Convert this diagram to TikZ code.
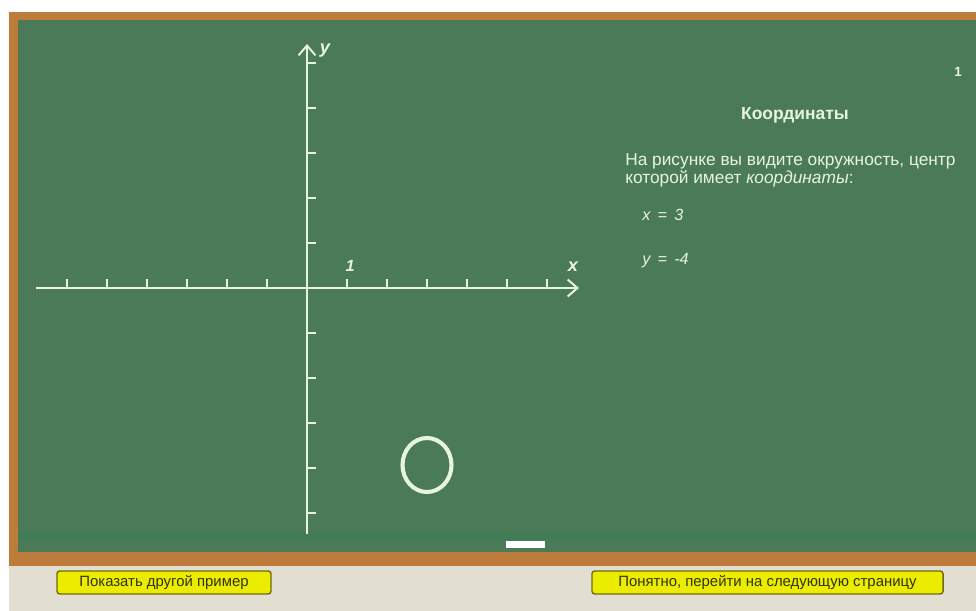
\documentclass[tikz,border=0pt]{standalone}
\usepackage{fontspec}
\setmainfont{Liberation Sans}
\usepackage{xcolor}
\usetikzlibrary{arrows.meta,calc}

\definecolor{board}{RGB}{74,122,88}
\definecolor{boardlow}{RGB}{66,124,86}
\definecolor{frame}{RGB}{190,124,60}
\definecolor{desk}{RGB}{226,223,210}
\definecolor{chalk}{RGB}{232,244,226}
\definecolor{btnfill}{RGB}{236,236,0}
\definecolor{btnline}{RGB}{110,106,20}
\definecolor{btntext}{RGB}{50,50,10}

\begin{document}
\begin{tikzpicture}[x=0.025cm,y=-0.025cm]
				\tikzstyle{every node}=[font=\fontsize{10}{12}\selectfont, text=chalk, inner sep=0pt];
				\tikzstyle{chalkline}=[draw=chalk, line width=1.4pt];
				\tikzstyle{button}=[fill=btnfill, draw=btnline, line width=1pt, rounded corners=2pt, minimum height=0.575cm, text=btntext, font=\fontsize{10.6}{12}\selectfont];
				\useasboundingbox (0,0) rectangle (976,611);

				%Board
				\fill[white] (0,0) rectangle (976,611);
				\fill[frame] (9,12) rectangle (976,566);
				\fill[desk] (9,566) rectangle (976,611);
				\fill[board] (18,20) rectangle (976,552);
				\fill[boardlow] (18,532) rectangle (976,540);
				\fill[white] (506,541) rectangle (545,548);

				%Axes
				\coordinate (o) at (307,288);
				\coordinate (xl) at (36,288);
				\coordinate (xr) at (579,288);
				\coordinate (yb) at (307,534);
				\coordinate (yt) at (307,44);
				\draw[chalkline, -{Straight Barb[length=7pt, width=12pt]}] (xl) -- (xr);
				\draw[chalkline, -{Straight Barb[length=7pt, width=12pt]}] (yb) -- (yt);

				%Ticks
				\foreach \i in {-6,...,-1,1,2,...,6}
					\draw[chalkline] ($(o)+(40*\i,0)$) -- ++(0,-9);
				\foreach \j in {-5,...,-1,1,2,...,5}
					\draw[chalkline] ($(o)+(0,45*\j)$) -- ++(9,0);

				%Labels
				\node[font=\fontsize{13}{15}\selectfont\bfseries\itshape] (ylab) at (325,51) {y};
				\node[font=\fontsize{13}{15}\selectfont\bfseries\itshape] (xlab) at (573,267) {x};
				\node[font=\fontsize{11.5}{13}\selectfont\bfseries\itshape] (one) at (350,266) {1};

				%Circle
				\draw[draw=chalk, line width=2.9pt] (427,465) ellipse (24.5 and 27);

				%Text
				\node[font=\fontsize{9.5}{11}\selectfont\bfseries] (page) at (958,72) {1};
				\node[font=\fontsize{12.4}{14}\selectfont\bfseries] (title) at (795,115) {Координаты};
				\node[anchor=north west, align=left, font=\fontsize{12.3}{12.8}\selectfont] (task) at (625,153)
					{На рисунке вы видите окружность, центр\\которой имеет \textit{координаты}:};
				\node[anchor=west, font=\fontsize{11.5}{13}\selectfont\itshape] (cx) at (642,215) {x\hspace{0.45em}=\hspace{0.45em}3};
				\node[anchor=west, font=\fontsize{11.5}{13}\selectfont\itshape] (cy) at (642,261) {y\hspace{0.45em}=\hspace{0.45em}-4};

				%Buttons
				\node[button, minimum width=5.35cm] (other) at (164,582.5) {Показать другой пример};
				\node[button, minimum width=8.775cm] (next) at (767.5,582.5) {Понятно, перейти на следующую страницу};

			\end{tikzpicture}
\end{document}
